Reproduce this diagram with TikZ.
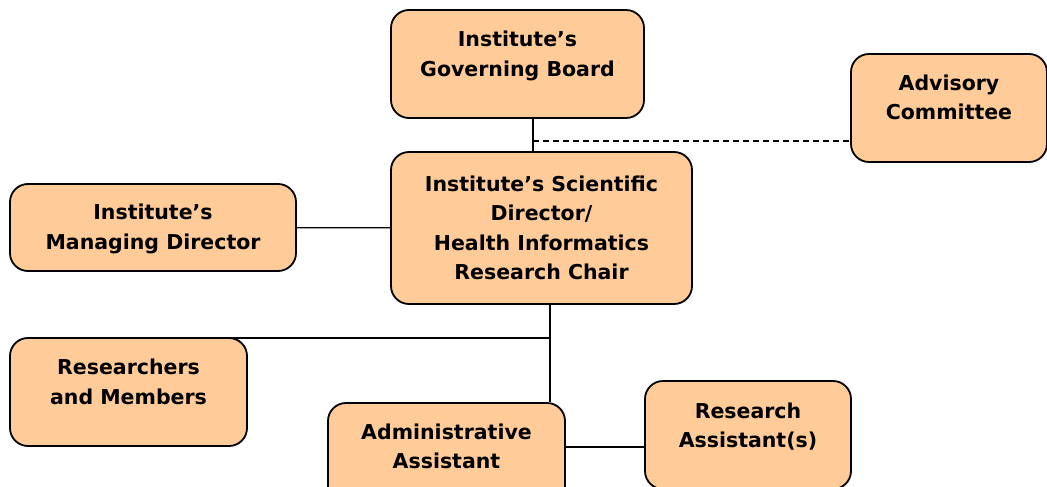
\documentclass[tikz,border=0pt]{standalone}
\usepackage{fontspec}
\setmainfont{DejaVu Sans}
\usetikzlibrary{positioning}
\definecolor{peach}{RGB}{255,204,153}
\tikzset{
  box/.style={draw, fill=peach, rounded corners=18pt, line width=1.8pt, inner sep=0pt},
  lbl/.style={font=\bfseries\fontsize{20.5}{29.5}\selectfont, align=center},
  conn/.style={line width=1.3pt},
}
\begin{document}
\begin{tikzpicture}[x=1pt,y=-1pt]
\useasboundingbox (0,0) rectangle (1047,487);
\node[box, minimum width=253pt, minimum height=108pt] (gb) at (517.5,64) {};
\node[box, minimum width=196pt, minimum height=108pt] (adv) at (949,108) {};
\node[box, minimum width=301pt, minimum height=152pt] (sci) at (541.5,228) {};
\node[box, minimum width=286pt, minimum height=87pt] (md) at (153,227.5) {};
\node[box, minimum width=237pt, minimum height=108pt] (res) at (128.5,392) {};
\node[box, minimum width=237pt, minimum height=108pt] (adm) at (446.5,457) {};
\node[box, minimum width=206pt, minimum height=108pt] (ra) at (748,435) {};

\node[lbl] (gbt) at ([yshift=-47pt]gb.north) {Institute’s\\Governing Board};
\node[lbl] (advt) at ([yshift=-44.5pt]adv.north) {Advisory\\Committee};
\node[lbl] (scit) at (sci) {Institute’s Scientific\\Director/\\Health Informatics\\Research Chair};
\node[lbl] (mdt) at ([yshift=-1.5pt]md) {Institute’s\\Managing Director};
\node[lbl] (rest) at ([yshift=-45pt]res.north) {Researchers\\and Members};
\node[lbl] (admt) at ([yshift=-44.5pt]adm.north) {Administrative\\Assistant};
\node[lbl] (rat) at ([yshift=-46.5pt]ra.north) {Research\\Assistant(s)};

\coordinate (topj) at (533,141);
\coordinate (botj) at (550,338);
\coordinate (asj) at (565,447);
\draw[conn] (gb.south -| topj) -- (sci.north -| topj);
\draw[conn, dash pattern=on 6pt off 4pt] (topj) -- (topj -| adv.west);
\draw[conn] (md) -- (sci);
\draw[conn] (sci.south -| botj) -- (adm.north -| botj);
\draw[conn] (botj) -- (botj -| res.north);
\draw[conn] (asj -| adm.east) -- (asj -| ra.west);
\end{tikzpicture}
\end{document}
